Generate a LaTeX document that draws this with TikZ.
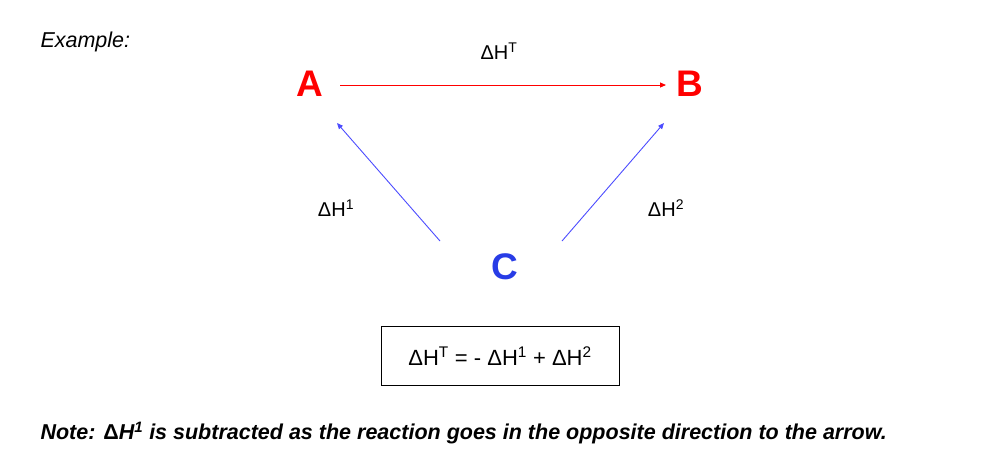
\documentclass[tikz,border=0pt]{standalone}
\usepackage{fontspec}
\setmainfont{Liberation Sans}
\usetikzlibrary{arrows.meta}
\begin{document}
\begin{tikzpicture}[x=1pt,y=-1pt,
  lbl/.style={font=\fontsize{20}{22}\selectfont},
  big/.style={font=\fontsize{37}{40}\selectfont\bfseries},
  arr/.style={-{Triangle[length=6pt,width=5pt]},line width=0.9pt}]
\useasboundingbox (0,0) rectangle (1008,459);
\node[anchor=west,font=\fontsize{21.5}{24}\selectfont\itshape] (ex) at (37,42) {Example:};
\node[big,text=red] (A) at (310,84) {A};
\node[big,text=red] (B) at (690,84) {B};
\node[big,text={rgb,255:red,40;green,60;blue,230}] (C) at (505,267) {C};
\coordinate (a1) at (340,85); \coordinate (b1) at (666,85);
\draw[arr,red] (a1) -- (b1);
\coordinate (c1) at (440,241); \coordinate (a2) at (337,123);
\coordinate (c2) at (562,241); \coordinate (b2) at (664,123);
\draw[arr,blue!70!white] (c1) -- (a2);
\draw[arr,blue!70!white] (c2) -- (b2);
\node[lbl] (ht) at (499,51) {ΔH\textsuperscript{T}};
\node[lbl] (h1) at (336,208) {ΔH\textsuperscript{1}};
\node[lbl] (h2) at (666,208) {ΔH\textsuperscript{2}};
\node[draw,line width=0.9pt,minimum width=238pt,minimum height=59pt,font=\fontsize{22}{24}\selectfont] (eq) at (500,356) {ΔH\textsuperscript{T} = - ΔH\textsuperscript{1} + ΔH\textsuperscript{2}};
\node[anchor=west,font=\fontsize{21.5}{24}\selectfont\bfseries\itshape] (note) at (37,433) {Note: \textup{Δ}H\textsuperscript{1} is subtracted as the reaction goes in the opposite direction to the arrow.};
\end{tikzpicture}
\end{document}
